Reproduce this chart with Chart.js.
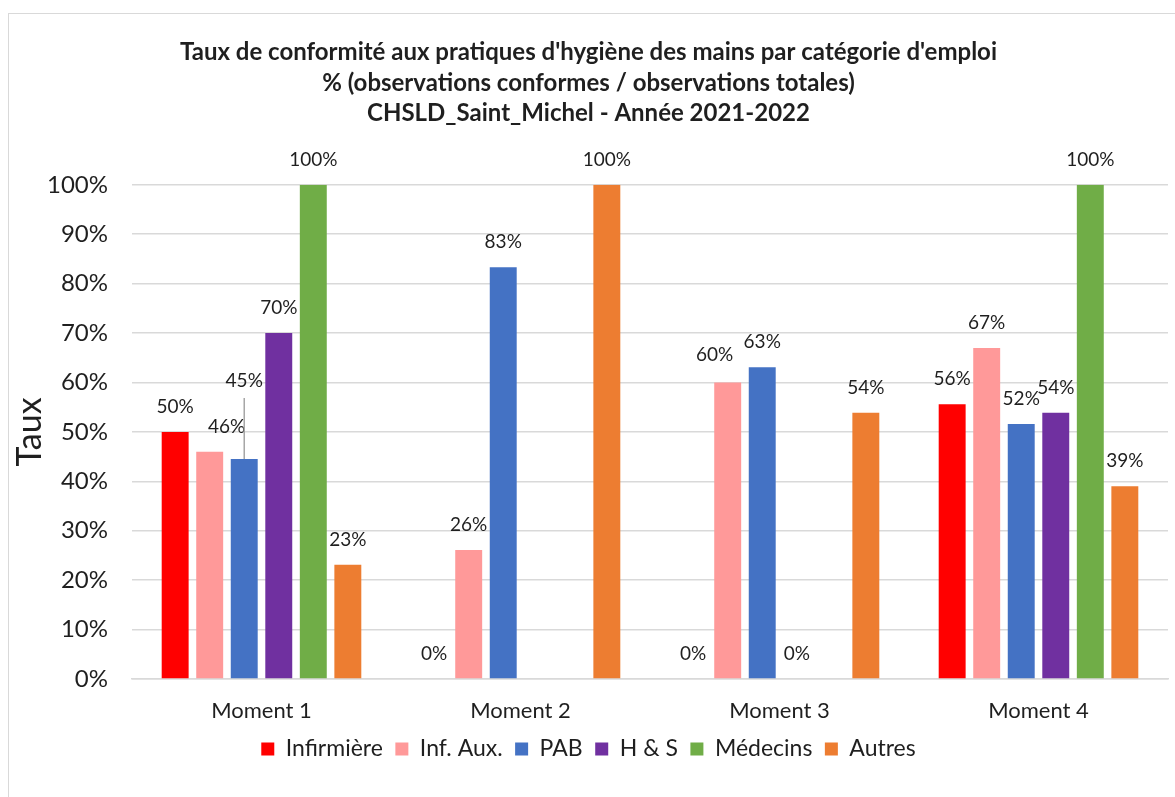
<!DOCTYPE html>
<html>
<head>
<meta charset="utf-8">
<script src="https://cdn.jsdelivr.net/npm/chart.js@4"></script>
<style>
html, body { margin: 0; padding: 0; background: #fff; overflow: hidden; }
#wrap { position: absolute; left: 8px; top: 13px; width: 1180px; height: 800px; border: 1px solid #d9d9d9; box-sizing: border-box; }
</style>
</head>
<body>
<div id="wrap"><canvas id="chart"></canvas></div>
<script>
const moments = ["Moment 1", "Moment 2", "Moment 3", "Moment 4"];
const yTicks = [0, 10, 20, 30, 40, 50, 60, 70, 80, 90, 100];

const infirmiere = [50, 0, 0, 55.6];
const infAux = [46, 26.1, 60, 67];
const pab = [44.5, 83.3, 63.1, 51.6];
const hs = [70, null, 0, 53.9];
const medecins = [100, null, null, 100];
const autres = [23.1, 100, 53.9, 39];

// label nudges, like the hand-moved labels in the original
const labelNudge = {
    "1-0": { dx: 17, dy: 0 },
    "2-0": { dx: 0, dy: -53, leader: true },
    "1-2": { dx: -13, dy: -3 }
};

const font = "Lato, 'Open Sans', sans-serif";
const textColor = "#1f1f1f";

const valueLabels = {
    id: "valueLabels",
    afterDatasetsDraw(chart) {
        const ctx = chart.ctx;
        ctx.save();
        ctx.font = "19px " + font;
        ctx.fillStyle = textColor;
        ctx.textAlign = "center";
        ctx.textBaseline = "middle";
        chart.data.datasets.forEach((ds, i) => {
            const meta = chart.getDatasetMeta(i);
            meta.data.forEach((bar, j) => {
                const v = ds.data[j];
                if (v === null) return;
                const n = labelNudge[i + "-" + j] || { dx: 0, dy: 0 };
                const x = bar.x + n.dx;
                const y = bar.y - 25 + n.dy;
                if (n.leader) {
                    ctx.strokeStyle = "#a6a6a6";
                    ctx.lineWidth = 1.5;
                    ctx.beginPath();
                    ctx.moveTo(bar.x, y + 17);
                    ctx.lineTo(bar.x, bar.y);
                    ctx.stroke();
                }
                ctx.fillText(Math.round(v) + "%", x, y);
            });
        });
        ctx.restore();
    }
};

const series = [
    { label: "Infirmière", data: infirmiere, backgroundColor: "#ff0000" },
    { label: "Inf. Aux.", data: infAux, backgroundColor: "#ff9999" },
    { label: "PAB", data: pab, backgroundColor: "#4472c4" },
    { label: "H & S", data: hs, backgroundColor: "#7030a0" },
    { label: "Médecins", data: medecins, backgroundColor: "#70ad47" },
    { label: "Autres", data: autres, backgroundColor: "#ed7d31" }
];

new Chart(document.getElementById("chart"), {
    type: "bar",
    data: {
        labels: moments,
        datasets: series.map(s => ({
            ...s,
            categoryPercentage: 0.8,
            barPercentage: 0.78
        }))
    },
    options: {
        responsive: true,
        maintainAspectRatio: false,
        animation: false,
        layout: { padding: { top: 23, right: 19, left: 0, bottom: 41.5 } },
        plugins: {
            title: {
                display: true,
                text: [
                    "Taux de conformité aux pratiques d'hygiène des mains par catégorie d'emploi",
                    "% (observations conformes / observations totales)",
                    "CHSLD_Saint_Michel - Année 2021-2022"
                ],
                color: textColor,
                font: { family: font, size: 24, weight: "bold", lineHeight: 1.275 },
                padding: { top: 0, bottom: 56 }
            },
            legend: {
                position: "bottom",
                labels: {
                    color: textColor,
                    font: { family: font, size: 23 },
                    boxWidth: 13,
                    boxHeight: 13,
                    padding: 12.5
                }
            },
            tooltip: { enabled: false }
        },
        scales: {
            x: {
                afterFit(scale) { scale.height = 46; },
                grid: { display: false },
                border: { color: "#d9d9d9", width: 1.5 },
                ticks: { color: textColor, font: { family: font, size: 22 }, padding: 11 }
            },
            y: {
                min: 0,
                max: 100,
                afterFit(scale) { scale.width = 123; },
                afterBuildTicks(scale) { scale.ticks = yTicks.map(v => ({ value: v })); },
                grid: { color: "#d9d9d9", lineWidth: 1.5, drawTicks: false },
                border: { display: false },
                ticks: {
                    color: textColor,
                    font: { family: font, size: 24 },
                    padding: 24,
                    callback: v => v + "%"
                },
                title: {
                    display: true,
                    text: "Taux",
                    color: textColor,
                    font: { family: font, size: 34 },
                    padding: { top: 1, bottom: 0 }
                }
            }
        }
    },
    plugins: [valueLabels]
});
</script>
</body>
</html>
